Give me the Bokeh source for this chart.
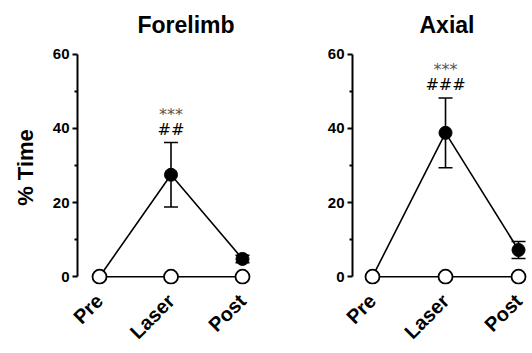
import math
from bokeh.plotting import figure
from bokeh.layouts import row
from bokeh.models import ColumnDataSource, FixedTicker, Whisker, TeeHead
from bokeh.core.properties import value
from bokeh.embed import file_html
from bokeh.resources import INLINE

# Sessions on the x axis
phases = ["Pre", "Laser", "Post"]
phase_pos = [0, 1, 2]

# Forelimb: % time, mean and SEM
forelimb_mean = [0.0, 27.5, 4.8]
forelimb_sem = [0.0, 8.7, 1.0]

# Axial: % time, mean and SEM
axial_mean = [0.0, 38.8, 7.2]
axial_sem = [0.0, 9.4, 2.3]

# Control group (open circles)
control_mean = [0.0, 0.0, 0.0]

# Significance marks above the laser point
forelimb_stars = ["", "***", ""]
forelimb_hash = ["", "##", ""]
axial_stars = ["", "***", ""]
axial_hash = ["", "###", ""]

y_ticks = [0, 20, 40, 60]
y_minor = [10, 30, 50]

FONT = "Liberation Sans"


def panel(title, mean, sem, stars, hashes, width, left, right, x_start, x_end,
          ylabel, title_offset):
    p = figure(width=width, height=353, output_backend="svg", toolbar_location=None,
               x_range=(x_start, x_end), y_range=(-2.1, 61.0),
               min_border_left=left, min_border_right=right,
               min_border_top=50, min_border_bottom=67,
               title=title)
    p.outline_line_color = None
    p.grid.grid_line_color = None
    p.background_fill_color = "white"
    p.border_fill_color = "white"

    p.title.text_font = FONT
    p.title.text_font_size = "23px"
    p.title.text_font_style = "bold"
    p.title.text_color = "black"
    p.title.align = "left"
    p.title.vertical_align = "top"
    p.title.standoff = 22
    p.title.offset = title_offset

    ya = p.yaxis[0]
    ya.ticker = FixedTicker(ticks=y_ticks, minor_ticks=y_minor)
    ya.bounds = (0, 60)
    ya.axis_line_width = 2
    ya.major_tick_line_width = 2
    ya.minor_tick_line_width = 2
    ya.major_tick_out = 5
    ya.major_tick_in = 0
    ya.minor_tick_out = 3
    ya.minor_tick_in = 0
    ya.major_label_text_font = FONT
    ya.major_label_text_font_style = "bold"
    ya.major_label_text_font_size = "15px"
    ya.major_label_text_color = "black"
    ya.major_label_standoff = 3
    if ylabel:
        ya.axis_label = ylabel
        ya.axis_label_text_font = FONT
        ya.axis_label_text_font_style = "bold"
        ya.axis_label_text_font_size = "22px"
        ya.axis_label_text_color = "black"
        ya.axis_label_standoff = 12

    xa = p.xaxis[0]
    xa.ticker = FixedTicker(ticks=phase_pos)
    xa.major_label_overrides = {i: s for i, s in zip(phase_pos, phases)}
    xa.axis_line_color = None
    xa.major_tick_line_color = None
    xa.minor_tick_line_color = None
    xa.major_label_orientation = math.pi / 4
    xa.major_label_text_font = FONT
    xa.major_label_text_font_style = "bold"
    xa.major_label_text_font_size = "20px"
    xa.major_label_text_color = "black"
    xa.major_label_standoff = 7

    src = ColumnDataSource(dict(
        x=phase_pos, y=mean,
        upper=[m + s for m, s in zip(mean, sem)],
        lower=[m - s for m, s in zip(mean, sem)],
        stars=stars, hashes=hashes,
    ))
    ctrl = ColumnDataSource(dict(x=phase_pos, y=control_mean))

    # laser group: line, error bars, filled markers
    p.line("x", "y", source=src, line_color="black", line_width=1.6)
    wk = Whisker(base="x", upper="upper", lower="lower", source=src, dimension="height",
                 line_color="black", line_width=1.6,
                 upper_head=TeeHead(size=14, line_color="black", line_width=1.6),
                 lower_head=TeeHead(size=14, line_color="black", line_width=1.6))
    p.add_layout(wk)
    p.scatter("x", "y", source=src, size=13, fill_color="black", line_color="black")

    # control group: open circles on the baseline
    p.line("x", "y", source=ctrl, line_color="black", line_width=1.6)
    p.scatter("x", "y", source=ctrl, size=14, fill_color="white", line_color="black",
              line_width=1.8)

    p.text("x", "upper", text="hashes", source=src, text_font=value("DejaVu Sans"),
           text_font_size="16px", text_align="center", text_baseline="middle",
           y_offset=-13, text_color="black")
    p.text("x", "upper", text="stars", source=src, text_font=value("DejaVu Sans"),
           text_font_size="16px", text_align="center", text_baseline="middle",
           y_offset=-28, text_color="#555555")
    return p


p1 = panel("Forelimb", forelimb_mean, forelimb_sem, forelimb_stars, forelimb_hash,
           266, 77, 10, -0.308, 2.196, "% Time", 60)
p2 = panel("Axial", axial_mean, axial_sem, axial_stars, axial_hash,
           266, 86, 2, -0.274, 2.164, None, 67)

layout = row(p1, p2)
open("out.html", "w").write(file_html(layout, INLINE))
